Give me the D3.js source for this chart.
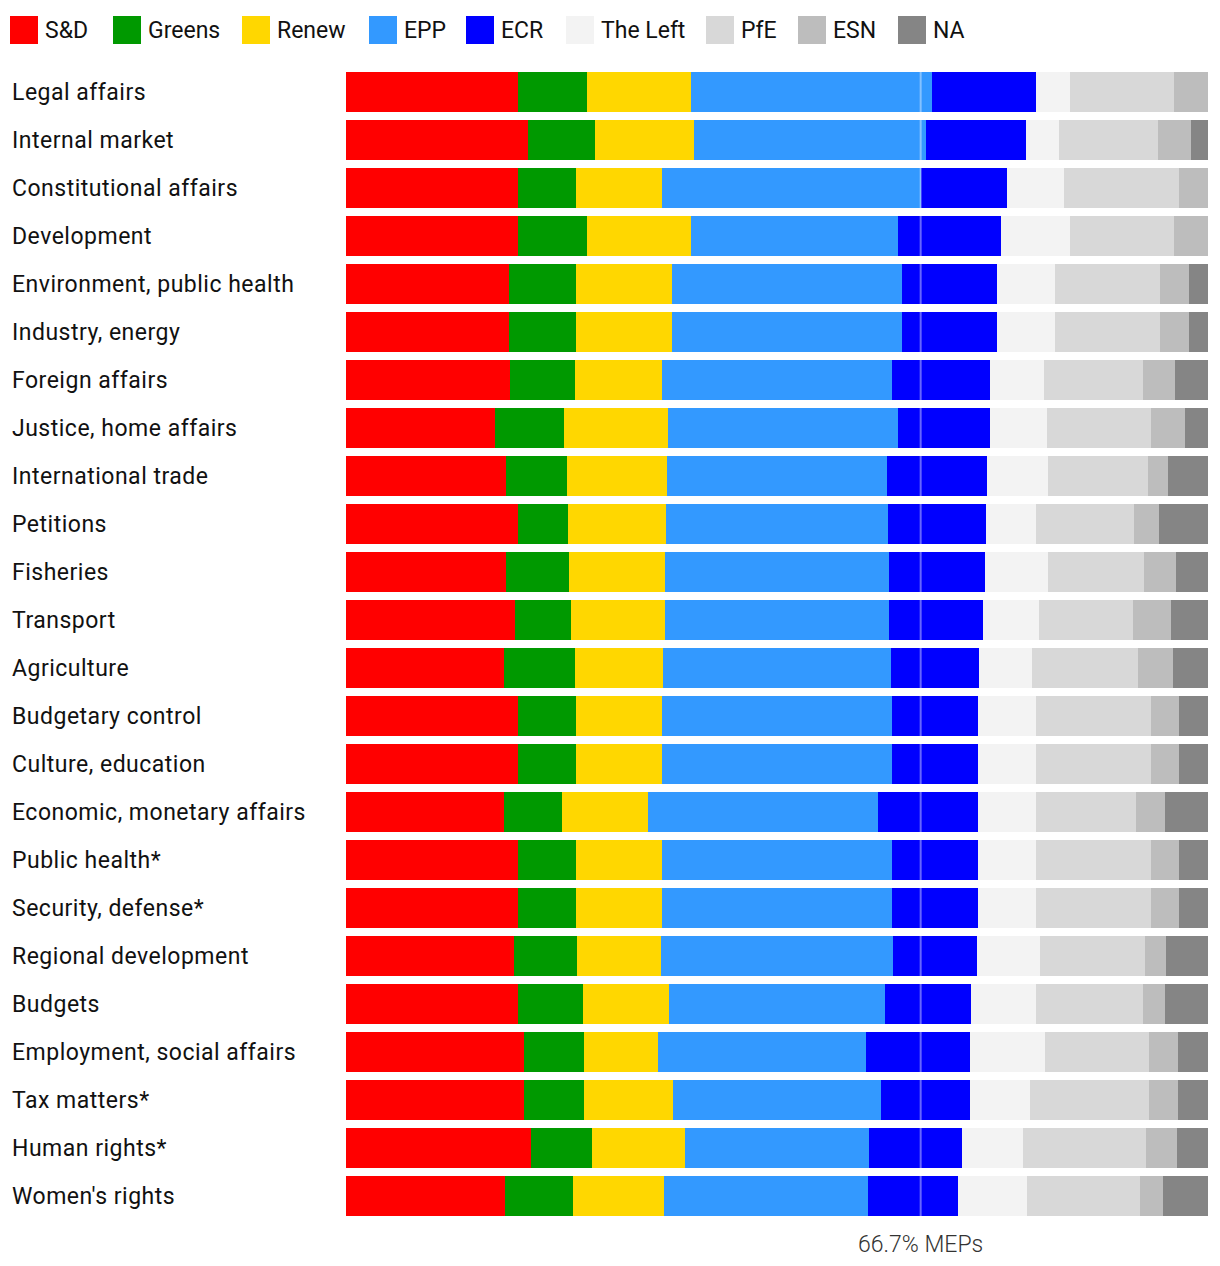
<!DOCTYPE html>
<html><head><meta charset="utf-8">
<script src="https://cdn.jsdelivr.net/npm/d3@7"></script>
<style>html,body{margin:0;padding:0;background:#fff;}svg{display:block;}</style>
</head><body>
<script>
const categories = ["Legal affairs","Internal market","Constitutional affairs","Development","Environment, public health","Industry, energy","Foreign affairs","Justice, home affairs","International trade","Petitions","Fisheries","Transport","Agriculture","Budgetary control","Culture, education","Economic, monetary affairs","Public health*","Security, defense*","Regional development","Budgets","Employment, social affairs","Tax matters*","Human rights*","Women's rights"];
const groups = ["S&D","Greens","Renew","EPP","ECR","The Left","PfE","ESN","NA"];
const groupColors = ["#FF0000","#009900","#FFD700","#3399FF","#0000FF","#F3F3F3","#D8D8D8","#BDBDBD","#858585"];
// seats per committee, in group order
const sd     = [5,11,6,5,17,17,15,13,8,7,5,9,9,6,6,11,6,6,8,8,12,6,6,7];
const greens = [2,4,2,2,7,7,6,6,3,2,2,3,4,2,2,4,2,2,3,3,4,2,2,3];
const renew  = [3,6,3,3,10,10,8,9,5,4,3,5,5,3,3,6,3,3,4,4,5,3,3,4];
const epp    = [7,14,9,6,24,24,21,20,11,9,7,12,13,8,8,16,8,8,11,10,14,7,6,9];
const ecr    = [3,6,3,3,10,10,9,8,5,4,3,5,5,3,3,7,3,3,4,4,7,3,3,4];
const left   = [1,2,2,2,6,6,5,5,3,2,2,3,3,2,2,4,2,2,3,3,5,2,2,3];
const pfe    = [3,6,4,3,11,11,9,9,5,4,3,5,6,4,4,7,4,4,5,5,7,4,4,5];
const esn    = [1,2,1,1,3,3,3,3,1,1,1,2,2,1,1,2,1,1,1,1,2,1,1,1];
const na     = [0,1,0,0,2,2,3,2,2,2,1,2,2,1,1,3,1,1,2,2,2,1,1,2];
const threshold = 2/3;
const thresholdLabel = "66.7% MEPs";

const seriesArrays = [sd,greens,renew,epp,ecr,left,pfe,esn,na];
const rows = categories.map((c,i)=>{const o={cat:c}; groups.forEach((g,j)=>o[g]=seriesArrays[j][i]); return o;});

const W=1220,H=1266;
const font="Roboto, 'DejaVu Sans', sans-serif";
const svg=d3.select("body").append("svg").attr("width",W).attr("height",H);

const x=d3.scaleLinear().domain([0,1]).range([346,1208]);
const y=d3.scaleBand().domain(categories).range([68,1220]).paddingInner(1/6).paddingOuter(1/12);
const color=d3.scaleOrdinal().domain(groups).range(groupColors);

const stacked=d3.stack().keys(groups).offset(d3.stackOffsetExpand)(rows);

svg.append("g").selectAll("g").data(stacked).join("g")
  .attr("fill",d=>color(d.key))
  .selectAll("rect").data(d=>d).join("rect")
  .attr("x",d=>x(d[0])).attr("width",d=>Math.max(0,x(d[1])-x(d[0])))
  .attr("y",d=>y(d.data.cat)).attr("height",y.bandwidth())
  .attr("shape-rendering","crispEdges");

// category labels
svg.append("g").selectAll("text").data(categories).join("text")
  .attr("x",12).attr("y",d=>y(d)+y.bandwidth()/2).attr("dy","0.35em")
  .attr("font-family",font).attr("font-size",23).attr("letter-spacing","0.5px").attr("fill","#111")
  .text(d=>d);

// threshold line
svg.append("line")
  .attr("x1",x(threshold)).attr("x2",x(threshold))
  .attr("y1",y.range()[0]+4).attr("y2",y.range()[1]-4)
  .attr("stroke","#fff").attr("stroke-opacity",0.4).attr("stroke-width",2);
svg.append("text").attr("x",x(threshold)).attr("y",1244).attr("dy","0.35em")
  .attr("text-anchor","middle").attr("font-family",font).attr("font-size",23)
  .attr("font-weight",300).attr("fill","#333").text(thresholdLabel);

// legend
const legendX=[10,113,242,369,466,566,706,798,898];
const lg=svg.append("g").selectAll("g").data(groups).join("g")
  .attr("transform",(d,i)=>`translate(${legendX[i]},16)`);
lg.append("rect").attr("width",28).attr("height",28).attr("fill",d=>color(d));
lg.append("text").attr("x",35).attr("y",14).attr("dy","0.35em")
  .attr("font-family",font).attr("font-size",23).attr("fill","#111").text(d=>d);
</script>
</body></html>
